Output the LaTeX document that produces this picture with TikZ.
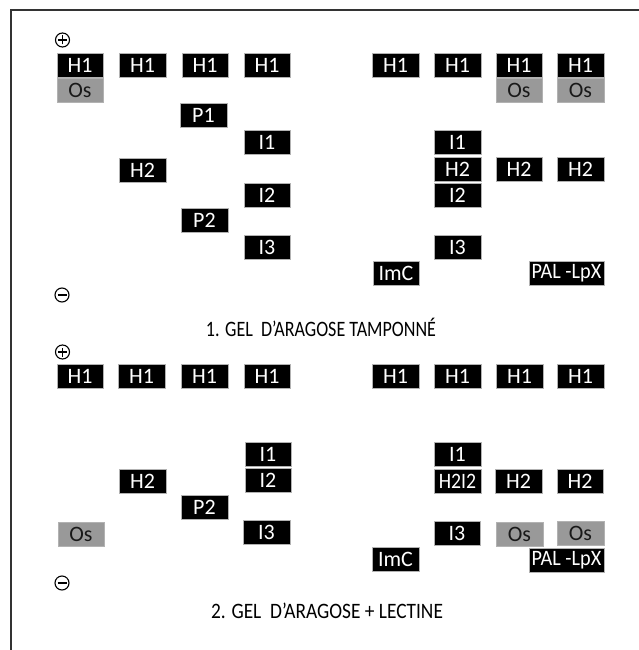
\documentclass[tikz,border=0pt]{standalone}
\usepackage{fontspec}
\setmainfont{Carlito}
\begin{document}
\begin{tikzpicture}[x=1pt,y=-1pt,
  band/.style={fill=black, draw=gray!60, line width=0.5pt, minimum width=46.5pt, minimum height=24pt, inner sep=0pt, text=white, font=\fontsize{22}{22}\selectfont},
  wide/.style={band, minimum width=75pt},
  osband/.style={band, fill=black!40, text=black!90},
  title/.style={inner sep=0pt, font=\fontsize{22}{22}\selectfont},
  pole/.style={draw, line width=1.1pt, circle, minimum size=14pt, inner sep=0pt},
  sign/.style={line width=1.1pt}
]
\useasboundingbox (0,0) rectangle (639,650);
\draw[line width=1.3pt, black!80] (11,650) -- (11,10) -- (639,10);

% ---- Panel 1 ----
\node[pole] (p1) at (62.5,40) {};
\draw[sign] ([xshift=-4.5pt]p1.center) -- ([xshift=4.5pt]p1.center) ([yshift=-4.5pt]p1.center) -- ([yshift=4.5pt]p1.center);
\node[pole] (m1) at (62,295) {};
\draw[sign] ([xshift=-4.5pt]m1.center) -- ([xshift=4.5pt]m1.center);

\node[band] (a1) at (80,65) {H1};
\node[band] (a2) at (142.5,65) {H1};
\node[band] (a3) at (205,65) {H1};
\node[band] (a4) at (267,65) {H1};
\node[band] (a5) at (395.5,65) {H1};
\node[band] (a6) at (457.5,65) {H1};
\node[band] (a7) at (519,65) {H1};
\node[band] (a8) at (580.5,65) {H1};
\node[osband] (ao1) at (80,90.5) {Os};
\node[osband] (ao7) at (519,90.5) {Os};
\node[osband] (ao8) at (580.5,90.5) {Os};
\node[band] (ap1) at (203.5,115.5) {P1};
\node[band] (ai1) at (267,142) {I1};
\node[band] (ah2) at (142.5,170) {H2};
\node[band] (ai2) at (267,195.5) {I2};
\node[band] (ap2) at (204.5,220.5) {P2};
\node[band] (ai3) at (267,247) {I3};
\node[band] (bi1) at (457.5,142) {I1};
\node[band] (bh2a) at (457.5,169) {H2};
\node[band] (bh2b) at (519,169) {H2};
\node[band] (bh2c) at (580.5,169) {H2};
\node[band] (bi2) at (457.5,195) {I2};
\node[band] (bi3) at (457.5,247) {I3};
\node[band] (bimc) at (396,273) {ImC};
\node[wide] (bpal) at (566.5,273) {\scalebox{0.92}[1]{PAL -LpX}};
\node[title] (t1) at (321,327) {\scalebox{0.82}[1]{1. GEL\ \ D'ARAGOSE TAMPONNÉ}};

% ---- Panel 2 ----
\node[pole] (p2) at (62.5,352) {};
\draw[sign] ([xshift=-4.5pt]p2.center) -- ([xshift=4.5pt]p2.center) ([yshift=-4.5pt]p2.center) -- ([yshift=4.5pt]p2.center);
\node[pole] (m2) at (62,583) {};
\draw[sign] ([xshift=-4.5pt]m2.center) -- ([xshift=4.5pt]m2.center);

\node[band] (c1) at (80,376) {H1};
\node[band] (c2) at (141.5,376) {H1};
\node[band] (c3) at (204.5,376) {H1};
\node[band] (c4) at (267,376) {H1};
\node[band] (c5) at (395.5,376) {H1};
\node[band] (c6) at (457.5,376) {H1};
\node[band] (c7) at (519.5,376) {H1};
\node[band] (c8) at (580.5,376) {H1};
\node[band] (ci1) at (268,454) {I1};
\node[band] (ch2) at (142.5,481) {H2};
\node[band] (ci2) at (268,480.5) {I2};
\node[band] (cp2) at (204.5,507.5) {P2};
\node[osband] (co1) at (81,534.5) {Os};
\node[band] (ci3) at (266.5,532.5) {I3};
\node[band] (di1) at (457.5,454) {I1};
\node[band] (dh2i2) at (457.5,481) {\scalebox{0.9}[1]{H2I2}};
\node[band] (dh2b) at (518.5,481) {H2};
\node[band] (dh2c) at (580,481) {H2};
\node[band] (di3) at (457,533) {I3};
\node[osband] (do7) at (519.5,534) {Os};
\node[osband] (do8) at (580.5,533) {Os};
\node[band] (dimc) at (395.5,559.5) {ImC};
\node[wide] (dpal) at (566.5,560.5) {\scalebox{0.92}[1]{PAL -LpX}};
\node[title] (t2) at (327,611) {\scalebox{0.88}[1]{2. GEL\ \ D'ARAGOSE + LECTINE}};
\end{tikzpicture}
\end{document}
